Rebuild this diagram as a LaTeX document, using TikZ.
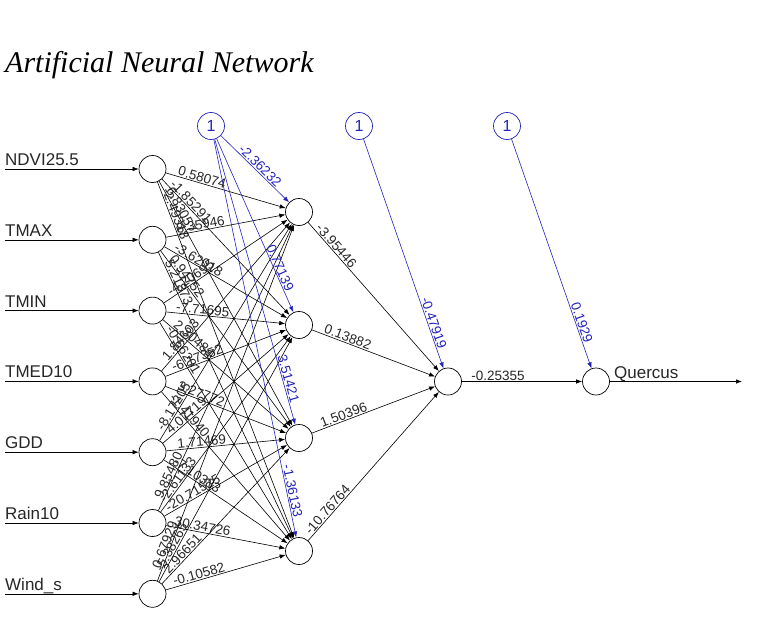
\documentclass[tikz,border=0pt]{standalone}
\usepackage{fontspec}
\setmainfont{Liberation Sans}
\newfontfamily\titlefont{Liberation Serif}
\usepackage{xcolor}
\usepackage{tikz}
\usetikzlibrary{arrows.meta, positioning, calc}
\definecolor{biasblue}{RGB}{35,35,185}

\tikzset{
  neuron/.style={circle, draw=black, fill=white, minimum size=27pt, inner sep=0pt, line width=0.7pt},
  biasnode/.style={neuron, draw=biasblue, text=biasblue, font=\fontsize{16}{16}\selectfont},
  syn/.style={-{Latex[length=6pt,width=4.5pt]}, line width=0.6pt},
  biassyn/.style={syn, draw=biasblue},
  wt/.style={above, inner sep=1pt, font=\fontsize{13.5}{14}\selectfont, text=black!85},
  bwt/.style={wt, text=biasblue},
  varlabel/.style={anchor=base west, inner sep=0pt, font=\fontsize{17}{17}\selectfont, text=black!85},
}

% weight written near the start of a synapse
\newcommand{\wlabel}[3]{\path let \p1=($(#2)-(#1)$), \n1={atan2(\y1,\x1)} in
  node[wt, rotate=\n1] at ($(#1)!50pt!(#2)$) {#3};}
% bias weight written near the end of a synapse
\newcommand{\blabel}[3]{\path let \p1=($(#2)-(#1)$), \n1={atan2(\y1,\x1)} in
  node[bwt, rotate=\n1] at ($(#2)!60pt!(#1)$) {#3};}

\begin{document}
\begin{tikzpicture}[x=1pt, y=-1pt]
			\useasboundingbox (0,0) rectangle (771,626);
			% Title:
			\node[anchor=base west, inner sep=0pt, font=\titlefont\itshape\fontsize{30}{30}\selectfont] (title) at (5,73) {Artificial Neural Network};
			% Nodes:
			\node[neuron] (i1) at (152.5,169) {};
			\node[neuron] (i2) at (152.5,239.8) {};
			\node[neuron] (i3) at (152.5,310.6) {};
			\node[neuron] (i4) at (152.5,381.4) {};
			\node[neuron] (i5) at (152.5,452.2) {};
			\node[neuron] (i6) at (152.5,523) {};
			\node[neuron] (i7) at (152.5,593.8) {};
			\node[neuron] (h1) at (299,212) {};
			\node[neuron] (h2) at (299,325) {};
			\node[neuron] (h3) at (299,438) {};
			\node[neuron] (h4) at (299,551) {};
			\node[neuron] (k1) at (448,381.5) {};
			\node[neuron] (out) at (596,381.5) {};
			\node[biasnode] (b1) at (211,126) {1};
			\node[biasnode] (b2) at (359,126) {1};
			\node[biasnode] (b3) at (507,126) {1};
			% Inputs and output:
			\coordinate (s1) at (5,169);
			\coordinate (s2) at (5,239.8);
			\coordinate (s3) at (5,310.6);
			\coordinate (s4) at (5,381.4);
			\coordinate (s5) at (5,452.2);
			\coordinate (s6) at (5,523);
			\coordinate (s7) at (5,593.8);
			\coordinate (e1) at (742,381.5);
			\node[varlabel] (l1) at (5,165.5) {NDVI25.5};
			\node[varlabel] (l2) at (5,236.3) {TMAX};
			\node[varlabel] (l3) at (5,307.1) {TMIN};
			\node[varlabel] (l4) at (5,377.9) {TMED10};
			\node[varlabel] (l5) at (5,448.7) {GDD};
			\node[varlabel] (l6) at (5,519.5) {Rain10};
			\node[varlabel] (l7) at (5,590.3) {Wind\_s};
			\node[varlabel] (l8) at (614,378) {Quercus};
			\draw[syn] (s1) -- (i1);
			\draw[syn] (s2) -- (i2);
			\draw[syn] (s3) -- (i3);
			\draw[syn] (s4) -- (i4);
			\draw[syn] (s5) -- (i5);
			\draw[syn] (s6) -- (i6);
			\draw[syn] (s7) -- (i7);
			\draw[syn] (out) -- (e1);
			% Input to hidden synapses:
			\draw[syn] (i1) -- (h1); \wlabel{i1}{h1}{0.58074}
			\draw[syn] (i1) -- (h2); \wlabel{i1}{h2}{-1.85291}
			\draw[syn] (i1) -- (h3); \wlabel{i1}{h3}{6.83057}
			\draw[syn] (i1) -- (h4); \wlabel{i1}{h4}{-2.49318}
			\draw[syn] (i2) -- (h1); \wlabel{i2}{h1}{8.35946}
			\draw[syn] (i2) -- (h2); \wlabel{i2}{h2}{-3.62018}
			\draw[syn] (i2) -- (h3); \wlabel{i2}{h3}{0.94752}
			\draw[syn] (i2) -- (h4); \wlabel{i2}{h4}{5.21873}
			\draw[syn] (i3) -- (h1); \wlabel{i3}{h1}{-4.20695}
			\draw[syn] (i3) -- (h2); \wlabel{i3}{h2}{-7.71695}
			\draw[syn] (i3) -- (h3); \wlabel{i3}{h3}{2.30484}
			\draw[syn] (i3) -- (h4); \wlabel{i3}{h4}{-0.66201}
			\draw[syn] (i4) -- (h1); \wlabel{i4}{h1}{1.84603}
			\draw[syn] (i4) -- (h2); \wlabel{i4}{h2}{-6.17352}
			\draw[syn] (i4) -- (h3); \wlabel{i4}{h3}{3.27772}
			\draw[syn] (i4) -- (h4); \wlabel{i4}{h4}{-1.41940}
			\draw[syn] (i5) -- (h1); \wlabel{i5}{h1}{-8.17205}
			\draw[syn] (i5) -- (h2); \wlabel{i5}{h2}{4.07719}
			\draw[syn] (i5) -- (h3); \wlabel{i5}{h3}{1.71469}
			\draw[syn] (i5) -- (h4); \wlabel{i5}{h4}{-7.10383}
			\draw[syn] (i6) -- (h1); \wlabel{i6}{h1}{9.85480}
			\draw[syn] (i6) -- (h2); \wlabel{i6}{h2}{-2.61133}
			\draw[syn] (i6) -- (h3); \wlabel{i6}{h3}{-20.71525}
			\draw[syn] (i6) -- (h4); \wlabel{i6}{h4}{30.34726}
			\draw[syn] (i7) -- (h1); \wlabel{i7}{h1}{0.67929}
			\draw[syn] (i7) -- (h2); \wlabel{i7}{h2}{-5.38265}
			\draw[syn] (i7) -- (h3); \wlabel{i7}{h3}{2.96651}
			\draw[syn] (i7) -- (h4); \wlabel{i7}{h4}{-0.10582}
			% Hidden to output synapses:
			\draw[syn] (h1) -- (k1); \wlabel{h1}{k1}{-3.95446}
			\draw[syn] (h2) -- (k1); \wlabel{h2}{k1}{0.13882}
			\draw[syn] (h3) -- (k1); \wlabel{h3}{k1}{1.50396}
			\draw[syn] (h4) -- (k1); \wlabel{h4}{k1}{-10.76764}
			\draw[syn] (k1) -- (out); \wlabel{k1}{out}{-0.25355}
			% Bias synapses:
			\draw[biassyn] (b1) -- (h1); \blabel{b1}{h1}{-2.36232}
			\draw[biassyn] (b1) -- (h2); \blabel{b1}{h2}{0.77139}
			\draw[biassyn] (b1) -- (h3); \blabel{b1}{h3}{3.51421}
			\draw[biassyn] (b1) -- (h4); \blabel{b1}{h4}{-1.36133}
			\draw[biassyn] (b2) -- (k1); \blabel{b2}{k1}{-0.47919}
			\draw[biassyn] (b3) -- (out); \blabel{b3}{out}{0.1929}
		\end{tikzpicture}
\end{document}
